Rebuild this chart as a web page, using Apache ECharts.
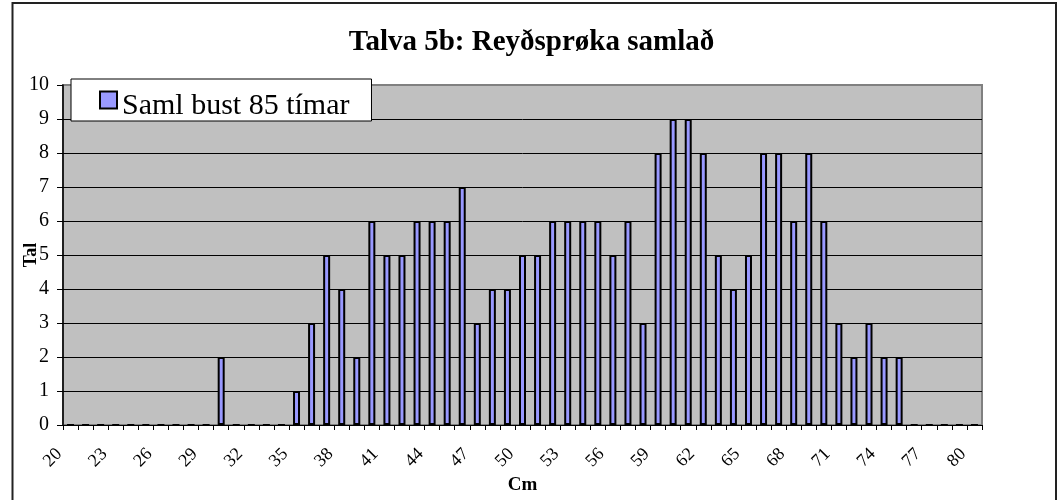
<!DOCTYPE html>
<html>
<head>
<meta charset="utf-8">
<script src="https://cdn.jsdelivr.net/npm/echarts@6/dist/echarts.min.js"></script>
<style>
  html, body { margin: 0; padding: 0; background: #fff; }
  #main { width: 1063px; height: 500px; }
</style>
</head>
<body>
<div id="main"></div>
<script>
// Cm lengdir 20..80
const lengths = [];
for (let cm = 20; cm <= 80; cm++) lengths.push(String(cm));

// tal fiskar fyri hvørja lengd (les av myndini)
const counts = [
  0, 0, 0, 0, 0, 0, 0, 0, 0, 0,   // 20-29
  2, 0, 0, 0, 0, 1, 3, 5, 4, 2,   // 30-39
  6, 5, 5, 6, 6, 6, 7, 3, 4, 4,   // 40-49
  5, 5, 6, 6, 6, 6, 5, 6, 3, 8,   // 50-59
  9, 9, 8, 5, 4, 5, 8, 8, 6, 8,   // 60-69
  6, 3, 2, 3, 2, 2, 0, 0, 0, 0,   // 70-79
  0                               // 80
];

const seriesName = 'Saml bust 85 tímar';
const titleText = 'Talva 5b: Reyðsprøka samlað';
const serif = '"Liberation Serif", "DejaVu Serif", serif';

const chart = echarts.init(document.getElementById('main'));

const option = {
  animation: false,
  title: {
    text: titleText,
    left: 'center',
    top: 23,
    textStyle: { fontFamily: serif, fontSize: 29, fontWeight: 'bold', color: '#000' }
  },
  legend: {
    left: 71,
    top: 79,
    orient: 'horizontal',
    backgroundColor: '#fff',
    borderColor: '#000',
    borderWidth: 1,
    padding: [0, 22, 0, 28],
    itemWidth: 17,
    itemHeight: 17,
    icon: 'rect',
    formatter: '{a|{name}}',
    textStyle: {
      fontFamily: serif, fontSize: 30, color: '#000',
      rich: { a: { fontFamily: serif, fontSize: 30, color: '#000', lineHeight: 30, padding: [12, 0, 0, 0] } }
    },
    data: [seriesName]
  },
  graphic: [{
    type: 'rect',
    shape: { x: 12.5, y: 3, width: 1043.5, height: 520 },
    style: { fill: 'none', stroke: '#222', lineWidth: 2 },
    silent: true,
    z: 100
  }],
  grid: {
    left: 63,
    top: 85,
    right: 81,
    bottom: 71,
    show: true,
    backgroundColor: '#c0c0c0',
    borderColor: '#808080',
    borderWidth: 2
  },
  xAxis: {
    type: 'category',
    data: lengths,
    name: 'Cm',
    nameLocation: 'middle',
    nameGap: 51,
    nameMoveOverlap: false,
    nameTextStyle: { fontFamily: serif, fontSize: 19, fontWeight: 'bold', color: '#000' },
    axisLine: { lineStyle: { color: '#000', width: 1 } },
    axisTick: { show: true, interval: 0, length: 5, lineStyle: { color: '#000' } },
    axisLabel: { interval: 2, rotate: 45, margin: 15, padding: [0, 16, 0, 0], fontFamily: serif, fontSize: 18, color: '#000' },
    splitLine: { show: false }
  },
  yAxis: {
    type: 'value',
    min: 0,
    max: 10,
    interval: 1,
    name: 'Tal',
    nameLocation: 'middle',
    nameGap: 23,
    nameMoveOverlap: false,
    nameTextStyle: { fontFamily: serif, fontSize: 18, fontWeight: 'bold', color: '#000' },
    axisLine: { show: true, lineStyle: { color: '#000', width: 1.5 } },
    axisTick: { show: true, length: 6, lineStyle: { color: '#000' } },
    axisLabel: { margin: 14, fontFamily: serif, fontSize: 20, color: '#000' },
    splitLine: { show: true, showMaxLine: false, lineStyle: { color: '#000', width: 1 } }
  },
  series: [{
    name: seriesName,
    type: 'bar',
    data: counts,
    barWidth: 7,
    itemStyle: { color: '#9999ff', borderColor: '#000', borderWidth: 2 }
  }]
};

chart.setOption(option);
</script>
</body>
</html>
